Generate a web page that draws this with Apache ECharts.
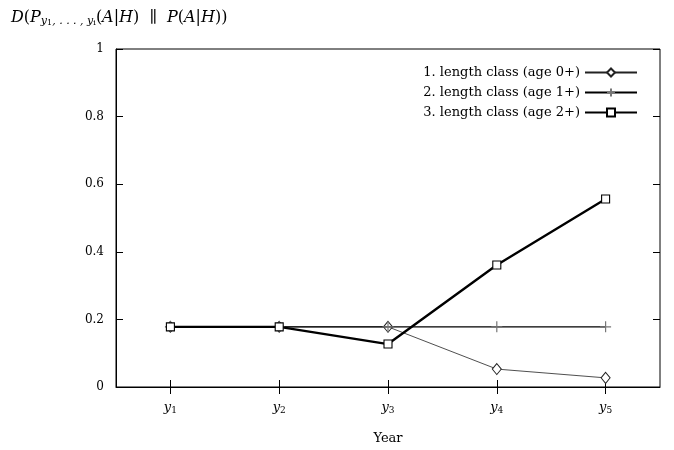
<!DOCTYPE html>
<html><head><meta charset="utf-8">
<script src="https://cdn.jsdelivr.net/npm/echarts@6/dist/echarts.min.js"></script>
<style>html,body{margin:0;padding:0;background:#fff}#c{width:674px;height:450px}</style>
</head><body><div id="c"></div>
<script>
var categories = ['1', '2', '3', '4', '5'];
var seriesNames = ['1. length class (age 0+)', '2. length class (age 1+)', '3. length class (age 2+)'];
var age0 = [0.178, 0.178, 0.178, 0.053, 0.027];
var age1 = [0.178, 0.178, 0.178, 0.178, 0.178];
var age2 = [0.178, 0.178, 0.127, 0.361, 0.556];
var yTicks = [0, 0.2, 0.4, 0.6, 0.8, 1];

var F = '"DejaVu Serif", "Liberation Serif", serif';
var chart = echarts.init(document.getElementById('c'), null, {renderer: 'canvas'});
var plusPath = 'path://M0,5L10,5M5,0L5,10';
chart.setOption({
  animation: false,
  backgroundColor: '#fff',
  title: {
    left: 6, top: 4,
    text: '{m|D}{n|(}{m|P}{s|y}{ss|1}{s|, . . . , y}{ss|i}{n|(}{m|A}{n||}{m|H}{n|)  ∥  }{m|P}{n|(}{m|A}{n||}{m|H}{n|))}',
    textStyle: {
      fontWeight: 'normal',
      rich: {
        m: {fontFamily: F, fontStyle: 'italic', fontWeight: 'normal', fontSize: 16, color: '#000'},
        n: {fontFamily: F, fontWeight: 'normal', fontSize: 16, color: '#000'},
        s: {fontFamily: F, fontStyle: 'italic', fontWeight: 'normal', fontSize: 11, color: '#000', verticalAlign: 'bottom', padding: [7, 0, 0, 0]},
        ss: {fontFamily: F, fontWeight: 'normal', fontSize: 8, color: '#000', verticalAlign: 'bottom', padding: [9, 0, 0, 0]}
      }
    }
  },
  legend: {
    right: 31, top: 61, orient: 'vertical', align: 'right',
    itemWidth: 52, itemHeight: 10, itemGap: 7,
    textStyle: {fontFamily: F, fontSize: 13, color: '#000'},
    data: seriesNames
  },
  grid: {left: 116, right: 14, top: 49, bottom: 63, show: true, borderColor: '#000', borderWidth: 1, containLabel: false, outerBoundsMode: 'none'},
  xAxis: [{
    type: 'category', data: categories, boundaryGap: true,
    name: 'Year', nameLocation: 'middle', nameGap: 45,
    nameTextStyle: {fontFamily: F, fontSize: 13, color: '#000'},
    axisLine: {show: true, lineStyle: {color: '#000', width: 1}},
    axisTick: {show: true, inside: true, alignWithLabel: true, length: 7, lineStyle: {color: '#000'}},
    axisLabel: {
      margin: 14, color: '#000',
      formatter: function (v) { return '{it|y}{sb|' + v + '}'; },
      rich: {
        it: {fontFamily: F, fontStyle: 'italic', fontSize: 13, color: '#000'},
        sb: {fontFamily: F, fontSize: 9, color: '#000', verticalAlign: 'bottom', padding: [5, 0, 0, 0]}
      }
    },
    splitLine: {show: false}
  }, {
    type: 'category', data: categories, boundaryGap: true, position: 'top',
    axisLine: {show: false},
    axisTick: {show: true, inside: true, alignWithLabel: true, length: 7, lineStyle: {color: '#000'}},
    axisLabel: {show: false}, splitLine: {show: false}
  }],
  yAxis: [{
    type: 'value', min: 0, max: 1, interval: 0.2,
    axisLine: {show: true, lineStyle: {color: '#000'}},
    axisTick: {show: true, inside: true, length: 7, lineStyle: {color: '#000'}},
    axisLabel: {
      margin: 12, fontFamily: F, fontSize: 12, color: '#000',
      formatter: function (v) {
        for (var i = 0; i < yTicks.length; i++) {
          if (Math.abs(yTicks[i] - v) < 1e-9) return String(yTicks[i]);
        }
        return '';
      }
    },
    splitLine: {show: false}
  }, {
    type: 'value', min: 0, max: 1, interval: 0.2, position: 'right',
    axisLine: {show: false},
    axisTick: {show: true, inside: true, length: 7, lineStyle: {color: '#000'}},
    axisLabel: {show: false}, splitLine: {show: false}
  }],
  series: [{
    name: seriesNames[0], type: 'line', data: age0,
    symbol: 'diamond', symbolSize: [9, 11], showAllSymbol: true,
    lineStyle: {color: '#222', width: 0.8},
    itemStyle: {color: '#fff', borderColor: '#222', borderWidth: 1},
    z: 2
  }, {
    name: seriesNames[1], type: 'line', data: age1,
    symbol: plusPath, symbolSize: 11, showAllSymbol: true,
    lineStyle: {color: '#000', width: 1.4},
    itemStyle: {color: 'rgba(0,0,0,0)', borderColor: '#777', borderWidth: 1.2},
    z: 3
  }, {
    name: seriesNames[2], type: 'line', data: age2,
    symbol: 'rect', symbolSize: 8, showAllSymbol: true,
    lineStyle: {color: '#000', width: 2.4},
    itemStyle: {color: '#fff', borderColor: '#000', borderWidth: 1.1},
    z: 4
  }]
});
</script></body></html>
